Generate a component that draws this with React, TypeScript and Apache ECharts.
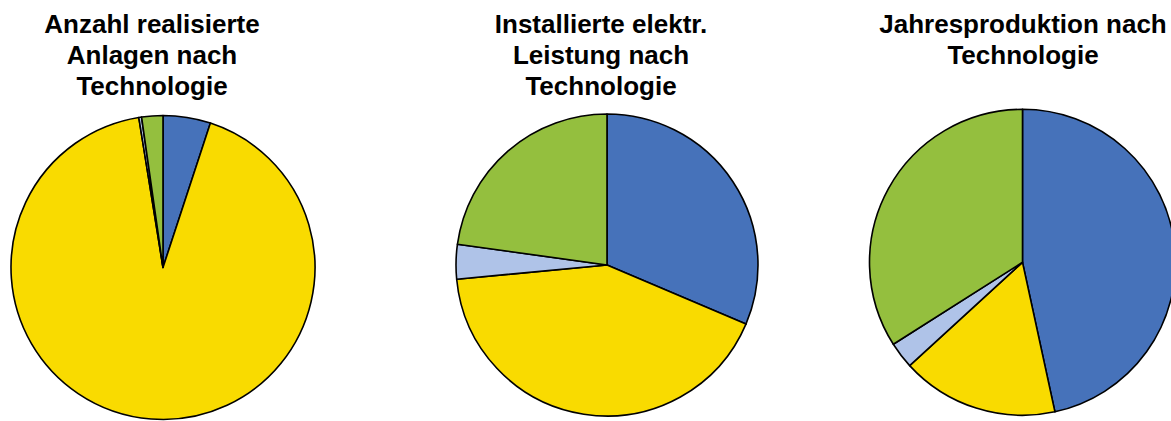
import React, { useEffect, useRef } from "react";
import * as echarts from "echarts";

const technologies = ["Wasserkraft", "Photovoltaik", "Windenergie", "Biomasse"];
const colors = ["#4672BA", "#F9DB00", "#AFC3E8", "#94BF3E"];

const titles = [
  "Anzahl realisierte\nAnlagen nach\nTechnologie",
  "Installierte elektr.\nLeistung nach\nTechnologie",
  "Jahresproduktion nach\nTechnologie",
];

// shares in percent, order: Wasserkraft, Photovoltaik, Windenergie, Biomasse
const anzahlAnlagen = [5.05, 92.4, 0.3, 2.25];
const installierteLeistung = [31.4, 42.1, 3.7, 22.8];
const jahresproduktion = [46.6, 16.6, 2.8, 34.0];

const datasets = [anzahlAnlagen, installierteLeistung, jahresproduktion];

export default function App() {
  const ref = useRef<HTMLDivElement>(null);
  useEffect(() => {
    document.body.style.margin = "0";
    if (!ref.current) return;
    const chart = echarts.init(ref.current, undefined, { renderer: "svg" });
    const centers: [number, number][] = [
      [163, 267.5],
      [607, 265],
      [1022.5, 262.3],
    ];
    const radii = [152, 151, 153];
    const titleX = [152, 601, 1023];
    chart.setOption({
      animation: false,
      backgroundColor: "#ffffff",
      graphic: titles.map((t, i) => ({
        type: "text",
        x: titleX[i],
        y: 8.5,
        silent: true,
        style: {
          text: t,
          align: "center",
          verticalAlign: "top",
          fontFamily: "Liberation Sans, Arial, sans-serif",
          fontWeight: "bold",
          fontSize: 26,
          lineHeight: 31,
          fill: "#000000",
        },
      })),
      series: datasets.map((vals, i) => ({
        type: "pie",
        center: centers[i],
        radius: radii[i],
        startAngle: 90,
        clockwise: true,
        avoidLabelOverlap: false,
        label: { show: false },
        labelLine: { show: false },
        emphasis: { disabled: true },
        itemStyle: { borderColor: "#000000", borderWidth: 1.6 },
        data: vals.map((v, j) => ({
          name: technologies[j],
          value: v,
          itemStyle: { color: colors[j] },
        })),
      })),
    });
    return () => chart.dispose();
  }, []);
  return <div ref={ref} style={{ width: 1171, height: 421 }} />;
}
